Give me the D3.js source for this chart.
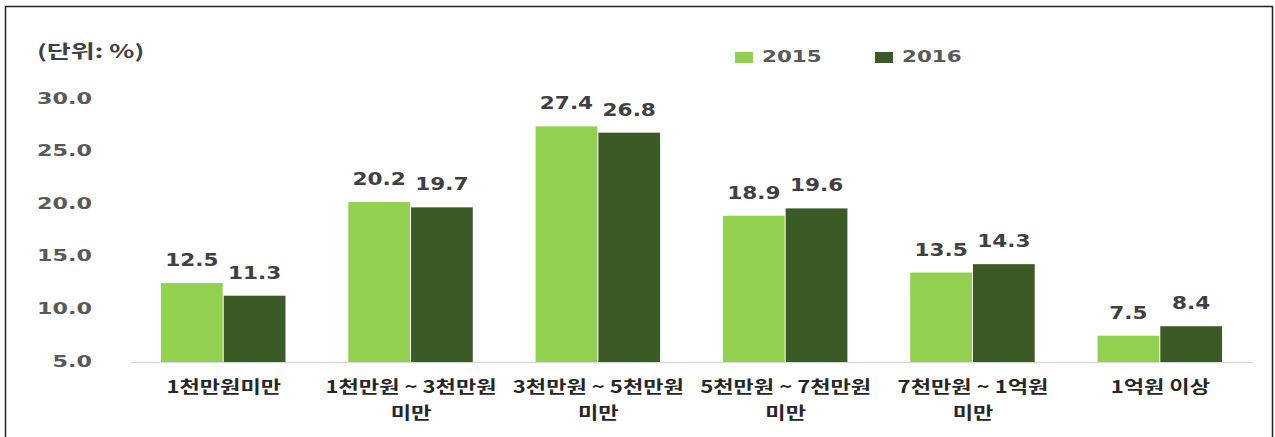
<!DOCTYPE html>
<html><head><meta charset="utf-8">
<script src="https://cdn.jsdelivr.net/npm/d3@7"></script>
<style>body{margin:0;background:#fff}svg{display:block}</style>
</head><body>
<svg id="c" width="1275" height="437"></svg>
<script>
const categories = [["1천만원미만"],["1천만원 ~ 3천만원","미만"],["3천만원 ~ 5천만원","미만"],["5천만원 ~ 7천만원","미만"],["7천만원 ~ 1억원","미만"],["1억원 이상"]];
const series = ["2015","2016"];
const values2015 = [12.5,20.2,27.4,18.9,13.5,7.5];
const values2016 = [11.3,19.7,26.8,19.6,14.3,8.4];
const yTicks = [5,10,15,20,25,30];
const unitLabel = "(단위: %)";

const colors = {"2015":"#92d050","2016":"#3b5a26"};
const svg = d3.select("#c");
const FONT = "'DejaVu Sans', Verdana, sans-serif";
const KFONT = "'Noto Sans CJK KR', sans-serif";

svg.append("rect").attr("x",5.5).attr("y",6.5).attr("width",1267).attr("height",440).attr("fill","none").attr("stroke","#222").attr("stroke-width",1.5);

const keys = categories.map((d,i)=>i);
const x = d3.scaleBand().domain(keys).range([131,1253]).paddingInner(0.33).paddingOuter(0.16);
const xs = d3.scaleBand().domain(series).range([0,x.bandwidth()]);
const y = d3.scaleLinear().domain([5,30]).range([362,99]);

function txt(g, tx, ty, s, opts){
  const t = g.append("text").attr("transform",`translate(${tx},${ty}) scale(${opts.sx||1.3},1)`).text(s)
    .attr("font-family",opts.family||FONT).attr("font-weight","bold").attr("font-size",opts.size)
    .attr("fill",opts.fill||"#595959").attr("text-anchor",opts.anchor||"middle")
    .attr("dominant-baseline","middle");
  return t;
}

// y axis ticks (labels only)
const ya = svg.append("g");
yTicks.forEach(v=>txt(ya, 92, y(v), d3.format(".1f")(v), {size:16.5, sx:1.35, anchor:"end"}));

// baseline
svg.append("line").attr("x1",131).attr("x2",1253).attr("y1",362.5).attr("y2",362.5).attr("stroke","#d9d9d9").attr("stroke-width",1.5);

const data = keys.map(i=>({i, vals:[{s:"2015",v:values2015[i]},{s:"2016",v:values2016[i]}]}));
const g = svg.append("g");
data.forEach(d=>{
  d.vals.forEach(b=>{
    const bx = x(d.i)+xs(b.s);
    g.append("rect").attr("x",bx).attr("y",y(b.v)).attr("width",xs.bandwidth()-1).attr("height",y(5)-y(b.v)).attr("fill",colors[b.s]);
    txt(g, bx+(xs.bandwidth()-1)/2, y(b.v)-22, d3.format(".1f")(b.v), {size:18, sx:1.2, fill:"#404040"});
  });
  const cx = x(d.i)+x.bandwidth()/2;
  categories[d.i].forEach((line,k)=>{
    txt(g, cx, 388+k*26, line, {size:17, family:KFONT, fill:"#262626"});
  });
});

// unit label
txt(svg, 37, 53, unitLabel, {size:18, sx:1.45, family:KFONT, anchor:"start", fill:"#404040"});

// legend
const lg = svg.append("g");
[{s:"2015",x:735},{s:"2016",x:875}].forEach(l=>{
  lg.append("rect").attr("x",l.x).attr("y",52).attr("width",18).attr("height",11).attr("fill",colors[l.s]);
  txt(lg, l.x+27, 57.5, l.s, {size:16.5, anchor:"start", fill:"#595959"});
});
</script>
</body></html>
